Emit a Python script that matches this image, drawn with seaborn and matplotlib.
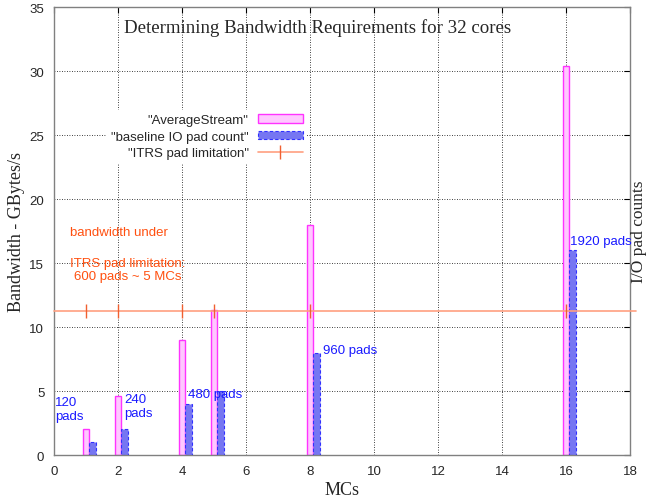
import matplotlib
matplotlib.use("Agg")
import matplotlib.pyplot as plt
import seaborn as sns
import numpy as np
import pandas as pd
from matplotlib.patches import Patch
from matplotlib.lines import Line2D

# data
mcs = [1, 2, 4, 5, 8, 16]
average_stream = [2.0, 4.6, 9.0, 11.3, 18.0, 30.4]
baseline_io = [1.0, 2.0, 4.0, 5.0, 8.0, 16.0]
itrs_limit = 11.25
pad_labels = ["120\npads", "240\npads", "480 pads", "960 pads", "1920 pads"]
pad_label_x = [0.02, 2.2, 4.2, 8.4, 16.12]
pad_label_y = [3.6, 3.85, 4.8, 8.2, 16.7]
itrs_notes = ["bandwidth under", "ITRS pad limitation:", "600 pads ~ 5 MCs"]
itrs_note_x = [0.5, 0.5, 0.62]
itrs_note_y = [17.4, 15.0, 14.0]

sns.set_style("white")
plt.rcParams["font.family"] = ["Liberation Sans", "DejaVu Sans"]

fig = plt.figure(figsize=(6.47, 5.02), dpi=100)
ax = fig.add_axes([0.0835, 0.0916, 0.8902, 0.8924])

df = pd.DataFrame({"mcs": mcs, "avg": average_stream, "base": baseline_io})
df["mcs_off"] = df["mcs"] + 0.2

sns.barplot(data=df, x="mcs", y="avg", native_scale=True, width=0.2,
            color="#ffc8ff", edgecolor="#ff33ff", linewidth=1.0,
            saturation=1, ax=ax, zorder=2)
sns.barplot(data=df, x="mcs_off", y="base", native_scale=True, width=0.2,
            color="#7676f2", edgecolor="#3030ff", linewidth=0.8,
            linestyle=(0, (3, 2)), saturation=1, ax=ax, zorder=2)

# ITRS line with tick marks
ax.axhline(itrs_limit, xmin=0, xmax=1.011, color="#ffa080", lw=1.2,
           clip_on=False, zorder=4)
sns.scatterplot(x=mcs, y=[itrs_limit] * len(mcs), marker="|", s=110,
                color="#f06030", linewidth=1.0, ax=ax, zorder=5)

ax.set_xlim(0, 18)
ax.set_ylim(0, 35)
ax.set_xticks(np.arange(0, 19, 2))
ax.set_yticks(np.arange(0, 36, 5))
ax.set_xticklabels([str(v) for v in range(0, 19, 2)])
ax.set_yticklabels([str(v) for v in range(0, 36, 5)])
ax.tick_params(direction="in", top=True, right=True, length=4,
               labelsize=9.5, color="black", pad=7)
ax.grid(True, color="black", linestyle=(0, (1, 2)), linewidth=0.6)
ax.set_axisbelow(True)
for sp in ax.spines.values():
    sp.set_color("#808080")
    sp.set_linewidth(1.0)

ax.set_xlabel("MCs", family="Liberation Serif", fontsize=13, labelpad=3)
ax.set_ylabel("Bandwidth - GBytes/s", family="Liberation Serif", fontsize=13,
              labelpad=3)
ax.text(1.016, 0.5, "I/O pad counts", transform=ax.transAxes, rotation=90,
        ha="center", va="center", family="Liberation Serif", fontsize=12.5)
ax.text(0.457, 0.955, "Determining Bandwidth Requirements for 32 cores",
        transform=ax.transAxes, ha="center", va="center",
        family="Liberation Serif", fontsize=13.6)

# annotations
for lbl, x, y in zip(pad_labels, pad_label_x, pad_label_y):
    ax.text(x, y, lbl, color="#1a1aff", fontsize=9.5, ha="left", va="center",
            linespacing=1.25)
for lbl, x, y in zip(itrs_notes, itrs_note_x, itrs_note_y):
    ax.text(x, y, lbl, color="#ff5010", fontsize=9.5, ha="left", va="center")

# legend
handles = [
    Patch(facecolor="#ffc8ff", edgecolor="#ff33ff", lw=1.0),
    Patch(facecolor="#7676f2", edgecolor="#3030ff", lw=0.8,
          linestyle=(0, (3, 2))),
    Line2D([], [], color="#ffa080", lw=1.2, marker="|", markersize=10,
           markeredgecolor="#f06030"),
]
labels = ['"AverageStream"', '"baseline IO pad count"', '"ITRS pad limitation"']
leg = ax.legend(handles, labels, loc="upper right",
                bbox_to_anchor=(0.45, 0.785), markerfirst=False,
                frameon=True, facecolor="white", edgecolor="none",
                framealpha=1, fontsize=9.5, handlelength=3.4,
                handleheight=0.65, labelspacing=0.35, borderpad=0.3,
                handletextpad=0.7, fancybox=False)

fig.savefig("out.png", dpi=100)
